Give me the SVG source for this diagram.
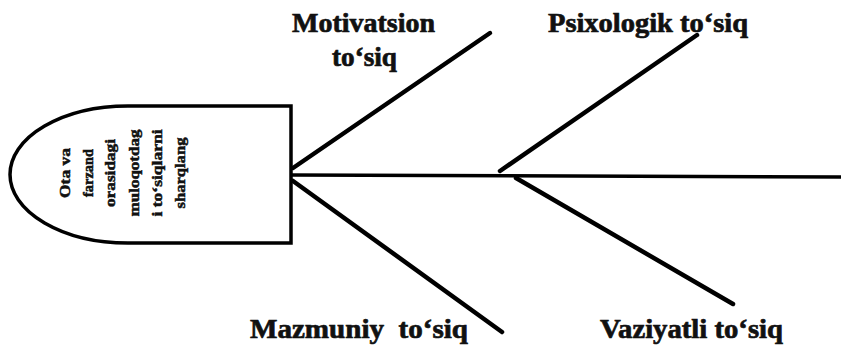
<svg xmlns="http://www.w3.org/2000/svg" width="841" height="346" viewBox="0 0 841 346">
<style>
.lbl{font-family:"Liberation Serif","Times New Roman",serif;font-weight:bold;font-size:28px;fill:#111;stroke:#111;stroke-width:0.7px;}
.hd{font-family:"Liberation Serif","Times New Roman",serif;font-weight:bold;font-size:15px;fill:#111;stroke:#111;stroke-width:0.5px;text-anchor:middle;}
.bone{stroke:#000;stroke-width:4.5;stroke-linecap:round;fill:none;}
.spine{stroke:#000;stroke-width:3.5;fill:none;}
.head{stroke:#000;stroke-width:3.5;fill:#fff;}
</style>
<rect width="841" height="346" fill="#fff"/>
<g id="connectors">
  <line class="spine" x1="291" y1="175" x2="841" y2="177"/>
  <line class="bone" x1="293" y1="168" x2="490" y2="33"/>
  <line class="bone" x1="293" y1="181" x2="502" y2="332"/>
  <line class="bone" x1="500" y1="171" x2="697" y2="35"/>
  <line class="bone" x1="516" y1="178" x2="733" y2="304"/>
</g>
<g id="head">
  <path class="head" d="M291,106 L128,106 A118,68.5 0 0 0 128,243 L291,243 Z"/>
  <g transform="translate(0,173)">
    <text class="hd" transform="translate(70,0) rotate(-90)" textLength="50" lengthAdjust="spacingAndGlyphs">Ota va</text>
    <text class="hd" transform="translate(93,0) rotate(-90)" textLength="48" lengthAdjust="spacingAndGlyphs">farzand</text>
    <text class="hd" transform="translate(115,0) rotate(-90)" textLength="68" lengthAdjust="spacingAndGlyphs">orasidagi</text>
    <text class="hd" transform="translate(139,0) rotate(-90)" textLength="87" lengthAdjust="spacingAndGlyphs">muloqotdag</text>
    <text class="hd" transform="translate(162,0) rotate(-90)" textLength="87" lengthAdjust="spacingAndGlyphs">i to‘siqlarni</text>
    <text class="hd" transform="translate(185,0) rotate(-90)" textLength="71" lengthAdjust="spacingAndGlyphs">sharqlang</text>
  </g>
</g>
<g id="motivatsion">
  <text class="lbl" x="292" y="32" textLength="143" lengthAdjust="spacingAndGlyphs">Motivatsion</text>
  <text class="lbl" x="332" y="66" textLength="65" lengthAdjust="spacingAndGlyphs">to‘siq</text>
</g>
<g id="psixologik">
  <text class="lbl" x="548" y="32" textLength="200" lengthAdjust="spacingAndGlyphs">Psixologik to‘siq</text>
</g>
<g id="mazmuniy">
  <text class="lbl" x="250" y="338" textLength="218" lengthAdjust="spacingAndGlyphs" xml:space="preserve">Mazmuniy  to‘siq</text>
</g>
<g id="vaziyatli">
  <text class="lbl" x="600" y="338" textLength="183" lengthAdjust="spacingAndGlyphs">Vaziyatli to‘siq</text>
</g>
</svg>
